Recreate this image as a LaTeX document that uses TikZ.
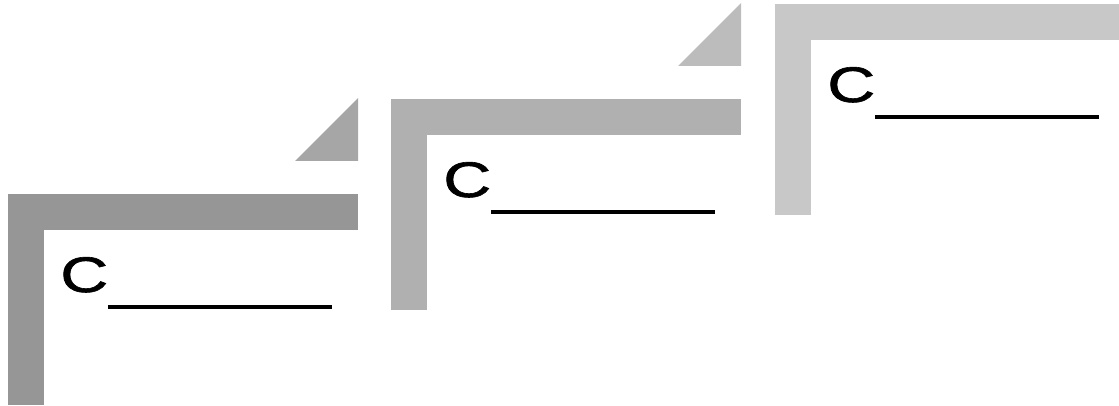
\documentclass[tikz,border=0pt]{standalone}
\usepackage{fontspec}
\setmainfont{Liberation Sans}
\newfontfamily\cfont{Liberation Sans}[FakeBold=1.2]
\definecolor{barA}{HTML}{969696}
\definecolor{triA}{HTML}{A6A6A6}
\definecolor{barB}{HTML}{B0B0B0}
\definecolor{triB}{HTML}{BCBCBC}
\definecolor{barC}{HTML}{C8C8C8}
\definecolor{triC}{HTML}{D2D2D2}
\tikzset{
  clabel/.style={inner sep=0pt, anchor=base west, font=\cfont\fontsize{50}{52}\selectfont, xscale=1.33},
}
\begin{document}
\begin{tikzpicture}[x=1pt,y=-1pt]
\useasboundingbox (0,0) rectangle (1119,406);
\begin{scope}
\clip (0,0) rectangle (1119,406);
\foreach \ox/\oy/\bc/\tc/\n in {8/194/barA/triA/1, 391/99/barB/triB/2, 775/4/barC/triC/3}{
  \begin{scope}[shift={(\ox,\oy)}]
    \fill[\bc] (0,0) rectangle (350,36);
    \fill[\bc] (0,0) rectangle (36,211);
    \fill[\tc] (287,-33) -- (350,-33) -- (350,-96) -- cycle;
    \node[clabel] (c\n) at (52,98) {C};
    \fill[black] (100,111) rectangle (324,115);
  \end{scope}
}
\end{scope}
\end{tikzpicture}
\end{document}
